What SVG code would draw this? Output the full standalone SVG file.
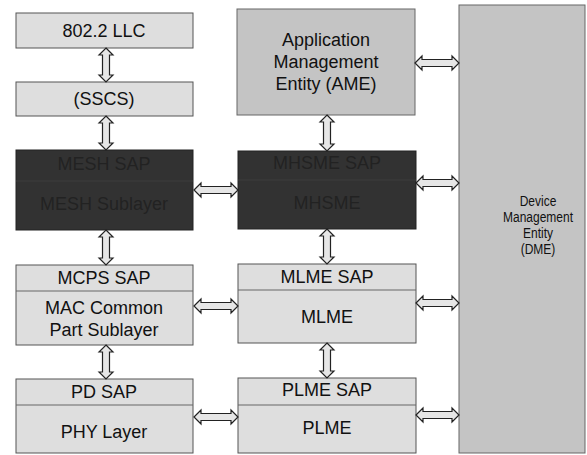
<svg xmlns="http://www.w3.org/2000/svg" width="587" height="455" viewBox="0 0 587 455">
<style>
.lt{fill:#dedede;stroke:#555;stroke-width:1}
.md{fill:#c4c4c4;stroke:#666;stroke-width:1}
.dk{fill:#323232;stroke:#222;stroke-width:1}
.t{font-family:"Liberation Sans",Arial,sans-serif;font-size:18px;fill:#111;text-anchor:middle}
.ts{font-family:"Liberation Sans",Arial,sans-serif;font-size:15px;fill:#111;text-anchor:middle}
.td{font-family:"Liberation Sans",Arial,sans-serif;font-size:18px;fill:#222;text-anchor:middle}
.arr{fill:#e6e6e6;stroke:#222;stroke-width:1.2;stroke-linejoin:miter}
.div{stroke:#666;stroke-width:1}
</style>
<rect width="587" height="455" fill="#fff"/>
<g id="llc"><rect class="lt" x="16" y="13" width="177" height="35"/><text class="t" x="104" y="37">802.2 LLC</text></g>
<g id="sscs"><rect class="lt" x="16" y="82" width="177" height="34"/><text class="t" x="104" y="105">(SSCS)</text></g>
<g id="mesh"><rect class="dk" x="16" y="150" width="177" height="80"/><line x1="16" y1="181" x2="193" y2="181" stroke="#3c3c3c"/><text class="td" x="104" y="170">MESH SAP</text><text class="td" x="104" y="210">MESH Sublayer</text></g>
<g id="mcps"><rect class="lt" x="16" y="265" width="177" height="80"/><line class="div" x1="16" y1="291" x2="193" y2="291"/><text class="t" x="104" y="284">MCPS SAP</text><text class="t" x="104" y="314">MAC Common</text><text class="t" x="104" y="336">Part Sublayer</text></g>
<g id="phy"><rect class="lt" x="16" y="379" width="177" height="74"/><line class="div" x1="16" y1="405" x2="193" y2="405"/><text class="t" x="104" y="398">PD SAP</text><text class="t" x="104" y="438">PHY Layer</text></g>
<g id="ame"><rect class="md" x="237" y="9" width="178" height="106"/><text class="t" x="326" y="46">Application</text><text class="t" x="326" y="68">Management</text><text class="t" x="326" y="90">Entity (AME)</text></g>
<g id="mhsme"><rect class="dk" x="238" y="151" width="178" height="78"/><line x1="238" y1="180" x2="416" y2="180" stroke="#3c3c3c"/><text class="td" x="327" y="169">MHSME SAP</text><text class="td" x="327" y="209">MHSME</text></g>
<g id="mlme"><rect class="lt" x="238" y="264" width="178" height="79"/><line class="div" x1="238" y1="290" x2="416" y2="290"/><text class="t" x="327" y="283">MLME SAP</text><text class="t" x="327" y="323">MLME</text></g>
<g id="plme"><rect class="lt" x="238" y="378" width="178" height="75"/><line class="div" x1="238" y1="405" x2="416" y2="405"/><text class="t" x="327" y="396">PLME SAP</text><text class="t" x="327" y="434">PLME</text></g>
<g id="dme"><rect class="md" x="459" y="5" width="126" height="448"/><g transform="translate(538,0) scale(0.8,1)"><text class="ts" x="0" y="206">Device</text><text class="ts" x="0" y="222">Management</text><text class="ts" x="0" y="238">Entity</text><text class="ts" x="0" y="254">(DME)</text></g></g>
<g id="connectors">
<polygon class="arr" points="106,48 113,55 109.5,55 109.5,75 113,75 106,82 99,75 102.5,75 102.5,55 99,55"/>
<polygon class="arr" points="106,116 113,123 109.5,123 109.5,143 113,143 106,150 99,143 102.5,143 102.5,123 99,123"/>
<polygon class="arr" points="106,230 113,237 109.5,237 109.5,258 113,258 106,265 99,258 102.5,258 102.5,237 99,237"/>
<polygon class="arr" points="106,345 113,352 109.5,352 109.5,372 113,372 106,379 99,372 102.5,372 102.5,352 99,352"/>
<polygon class="arr" points="327,115 334,122 330.5,122 330.5,144 334,144 327,151 320,144 323.5,144 323.5,122 320,122"/>
<polygon class="arr" points="327,229 334,236 330.5,236 330.5,257 334,257 327,264 320,257 323.5,257 323.5,236 320,236"/>
<polygon class="arr" points="327,343 334,350 330.5,350 330.5,371 334,371 327,378 320,371 323.5,371 323.5,350 320,350"/>
<polygon class="arr" points="194,190 201,183 201,186.5 231,186.5 231,183 238,190 231,197 231,193.5 201,193.5 201,197"/>
<polygon class="arr" points="194,306 201,299 201,302.5 231,302.5 231,299 238,306 231,313 231,309.5 201,309.5 201,313"/>
<polygon class="arr" points="194,417 201,410 201,413.5 231,413.5 231,410 238,417 231,424 231,420.5 201,420.5 201,424"/>
<polygon class="arr" points="415,63 422,56 422,59.5 452,59.5 452,56 459,63 452,70 452,66.5 422,66.5 422,70"/>
<polygon class="arr" points="416,183 423,176 423,179.5 452,179.5 452,176 459,183 452,190 452,186.5 423,186.5 423,190"/>
<polygon class="arr" points="416,303 423,296 423,299.5 452,299.5 452,296 459,303 452,310 452,306.5 423,306.5 423,310"/>
<polygon class="arr" points="416,415 423,408 423,411.5 452,411.5 452,408 459,415 452,422 452,418.5 423,418.5 423,422"/>
</g>
</svg>
